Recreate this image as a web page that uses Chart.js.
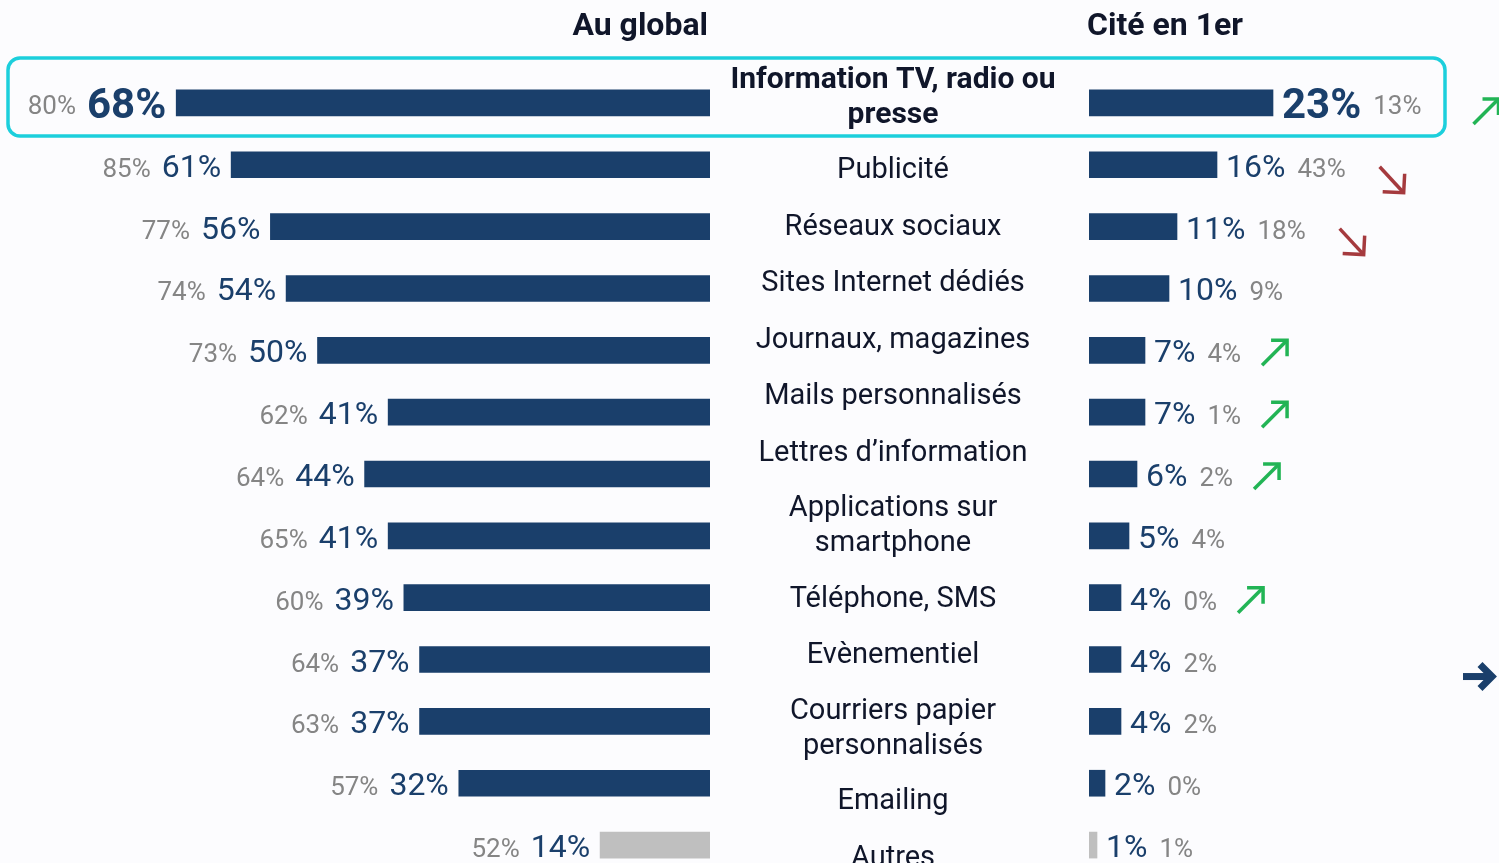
<!DOCTYPE html>
<html><head><meta charset="utf-8">
<script src="https://cdn.jsdelivr.net/npm/chart.js@4"></script>
<style>
html,body{margin:0;padding:0;background:#fcfcfe;overflow:hidden;width:1499px;height:863px}
#wrap{position:relative;width:1499px;height:863px;overflow:hidden}
canvas{position:absolute;left:0;top:0}
</style></head><body>
<div id="wrap"><canvas id="cl" width="1499" height="876"></canvas><canvas id="cr" width="1499" height="876"></canvas></div>
<script>
// ---- data ----
const categories = [
  ["Information TV, radio ou","presse"],
  ["Publicité"],
  ["Réseaux sociaux"],
  ["Sites Internet dédiés"],
  ["Journaux, magazines"],
  ["Mails personnalisés"],
  ["Lettres d’information"],
  ["Applications sur","smartphone"],
  ["Téléphone, SMS"],
  ["Evènementiel"],
  ["Courriers papier","personnalisés"],
  ["Emailing"],
  ["Autres"]
];
const globalValues = [68,61,56,54,50,41,44,41,39,37,37,32,14];
const globalPrevious = [80,85,77,74,73,62,64,65,60,64,63,57,52];
const firstValues = [23,16,11,10,7,7,6,5,4,4,4,2,1];
const firstPrevious = [13,43,18,9,4,1,2,4,0,2,2,0,1];
const trends = ["up","down","down",null,"up","up","up",null,"up","flat",null,null,null];
const headerLeft = "Au global";
const headerRight = "Cité en 1er";

// ---- styles ----
const NAVY = "#1a3f6b", GREY_BAR = "#bfbfbf", GREY_TXT = "#858585", DARK = "#10162a";
const FONT = "Roboto, 'Noto Sans', sans-serif";
const barColors = categories.map((c,i)=> i===categories.length-1 ? GREY_BAR : NAVY);

function drawArrow(ctx, x, y, kind){
  ctx.save();
  ctx.lineCap = "butt"; ctx.lineJoin = "miter";
  if(kind==="up"){
    ctx.strokeStyle = "#22b455"; ctx.lineWidth = 3.5;
    ctx.beginPath(); ctx.moveTo(x, y+13); ctx.lineTo(x+25, y-12); ctx.stroke();
    ctx.beginPath(); ctx.moveTo(x+9, y-12); ctx.lineTo(x+25, y-12); ctx.lineTo(x+25, y+4); ctx.stroke();
  } else if(kind==="down"){
    ctx.strokeStyle = "#a53a3e"; ctx.lineWidth = 3.5;
    ctx.beginPath(); ctx.moveTo(x, y-13); ctx.lineTo(x+24, y+13); ctx.stroke();
    ctx.beginPath(); ctx.moveTo(x+3, y+12); ctx.lineTo(x+24, y+13); ctx.lineTo(x+25, y-6); ctx.stroke();
  } else if(kind==="flat"){
    ctx.strokeStyle = NAVY; ctx.lineWidth = 7;
    ctx.beginPath(); ctx.moveTo(x, y); ctx.lineTo(x+27, y); ctx.stroke();
    ctx.beginPath(); ctx.moveTo(x+17, y-12); ctx.lineTo(x+29, y); ctx.lineTo(x+17, y+12); ctx.stroke();
  }
  ctx.restore();
}

const leftPlugin = {
  id: "leftLabels",
  beforeDatasetsDraw(chart){
    const ctx = chart.ctx;
    const yS = chart.scales.y;
    const y0 = yS.getPixelForValue(0);
    ctx.save();
    ctx.strokeStyle = "#1ccfdc"; ctx.lineWidth = 3.5;
    ctx.beginPath();
    ctx.roundRect(8, y0-45, 1437, 78, 12);
    ctx.stroke();
    ctx.restore();
  },
  afterDatasetsDraw(chart){
    const ctx = chart.ctx;
    const meta = chart.getDatasetMeta(0);
    ctx.save();
    meta.data.forEach((el,i)=>{
      const first = i===0;
      const x = el.x - 10;
      ctx.textAlign = "right"; ctx.textBaseline = "alphabetic";
      ctx.fillStyle = NAVY;
      ctx.font = (first ? "bold 42px " : "32px ") + FONT;
      ctx.fillText(globalValues[i] + "%", x, el.y + (first?15:12));
      const w = ctx.measureText(globalValues[i] + "%").width;
      ctx.fillStyle = GREY_TXT;
      ctx.font = "26px " + FONT;
      ctx.fillText(globalPrevious[i] + "%", x - w - 11, el.y + (first?11:12));
    });
    // header
    ctx.fillStyle = DARK;
    ctx.font = "bold 32px " + FONT;
    ctx.textAlign = "right"; ctx.textBaseline = "alphabetic";
    ctx.fillText(headerLeft, 708, 35);
    // centre labels, stacked as a text column
    ctx.textAlign = "center"; ctx.textBaseline = "middle";
    const lh = 35;
    let top = 53;
    categories.forEach((lines,i)=>{
      const h = 23.5 + 33*lines.length;
      const cy = top + h/2;
      ctx.font = (i===0 ? "bold 30px " : "29px ") + FONT;
      lines.forEach((ln,k)=>{
        ctx.fillText(ln, 893, cy + (k - (lines.length-1)/2)*lh);
      });
      top += h;
    });
    ctx.restore();
  }
};

const rightPlugin = {
  id: "rightLabels",
  afterDatasetsDraw(chart){
    const ctx = chart.ctx;
    const meta = chart.getDatasetMeta(0);
    ctx.save();
    meta.data.forEach((el,i)=>{
      const first = i===0;
      let x = el.x + 9;
      ctx.textAlign = "left"; ctx.textBaseline = "alphabetic";
      ctx.fillStyle = NAVY;
      ctx.font = (first ? "bold 42px " : "32px ") + FONT;
      const t = firstValues[i] + "%";
      ctx.fillText(t, x, el.y + (first?15:12));
      x += ctx.measureText(t).width + 12;
      ctx.fillStyle = GREY_TXT;
      ctx.font = "26px " + FONT;
      const g = firstPrevious[i] + "%";
      ctx.fillText(g, x, el.y + (first?11:12));
      x += ctx.measureText(g).width;
      const tr = trends[i];
      if(tr==="flat") drawArrow(ctx, 1463, el.y + 17, tr);
      else if(tr==="down") drawArrow(ctx, x + 34, el.y + 15, tr);
      else if(tr) drawArrow(ctx, x + (first ? 52 : 21), el.y + (first ? 8 : 2), tr);
    });
    ctx.fillStyle = DARK;
    ctx.font = "bold 32px " + FONT;
    ctx.textAlign = "left"; ctx.textBaseline = "alphabetic";
    ctx.fillText(headerRight, 1087, 35);
    ctx.restore();
  }
};

Chart.defaults.font.family = FONT;
const idx = categories.map((c,i)=>i);

new Chart(document.getElementById("cl"), {
  type: "bar",
  data: { labels: idx, datasets: [{ data: globalValues, backgroundColor: barColors, barThickness: 26, borderWidth: 0 }] },
  options: {
    responsive: false, animation: false, indexAxis: "y",
    layout: { padding: { left: 0, right: 789, top: 72, bottom: 0 } },
    plugins: { legend: { display: false }, tooltip: { enabled: false } },
    scales: {
      x: { type: "linear", reverse: true, min: 0, max: 710/7.85, display: false },
      y: { type: "category", offset: true, display: false }
    }
  },
  plugins: [leftPlugin]
});

new Chart(document.getElementById("cr"), {
  type: "bar",
  data: { labels: idx, datasets: [{ data: firstValues, backgroundColor: barColors, barThickness: 26, borderWidth: 0 }] },
  options: {
    responsive: false, animation: false, indexAxis: "y",
    layout: { padding: { left: 1089, right: 0, top: 72, bottom: 0 } },
    plugins: { legend: { display: false }, tooltip: { enabled: false } },
    scales: {
      x: { type: "linear", min: 0, max: 410/8, display: false },
      y: { type: "category", offset: true, display: false }
    }
  },
  plugins: [rightPlugin]
});
</script>
</body></html>
